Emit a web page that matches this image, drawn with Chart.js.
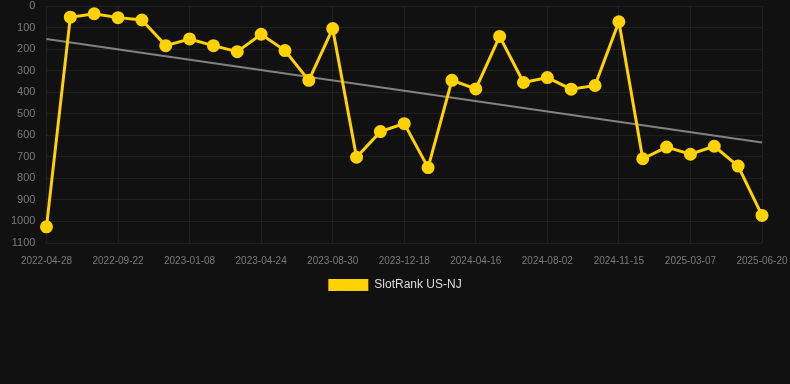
<!DOCTYPE html>
<html>
<head>
<meta charset="utf-8">
<script src="https://cdn.jsdelivr.net/npm/chart.js@4/dist/chart.umd.min.js"></script>
<style>
  html, body { margin: 0; padding: 0; background: #111111; }
  #wrap { width: 790px; height: 301px; position: relative; }
</style>
</head>
<body>
<div id="wrap"><canvas id="chart"></canvas></div>
<script>
// dates (x categories)
const dates = [
  '2022-04-28', '2022-06-16', '2022-08-04', '2022-09-22', '2022-10-28', '2022-12-03',
  '2023-01-08', '2023-02-12', '2023-03-19', '2023-04-24', '2023-06-06', '2023-07-18',
  '2023-08-30', '2023-10-06', '2023-11-12', '2023-12-18', '2024-01-27', '2024-03-07',
  '2024-04-16', '2024-05-22', '2024-06-27', '2024-08-02', '2024-09-06', '2024-10-11',
  '2024-11-15', '2024-12-22', '2025-01-28', '2025-03-07', '2025-04-11', '2025-05-16',
  '2025-06-20'
];

// rank values
const rankNJ = [
  1025, 52, 36, 54, 65, 184,
  153, 184, 212, 131, 207, 345,
  105, 702, 583, 546, 750, 345,
  385, 141, 355, 332, 386, 369,
  73, 709, 655, 688, 651, 743,
  972
];

// trend line ends
const trendStart = 153;
const trendEnd = 634;

const trendData = dates.map((d, i) =>
  i === 0 ? trendStart : (i === dates.length - 1 ? trendEnd : null));

const gold = 'rgb(255, 210, 0)';
const tickGrey = '#7a7a7a';
const gridCol = 'rgba(255,255,255,0.06)';
const font = 'Arial, "Liberation Sans", sans-serif';

new Chart(document.getElementById('chart'), {
  type: 'line',
  data: {
    labels: dates,
    datasets: [
      {
        label: 'SlotRank US-NJ',
        data: rankNJ,
        borderColor: gold,
        backgroundColor: gold,
        borderWidth: 3,
        pointRadius: 5,
        pointHoverRadius: 5,
        pointBackgroundColor: gold,
        pointBorderColor: gold,
        tension: 0
      },
      {
        label: 'trend',
        data: trendData,
        spanGaps: true,
        borderColor: 'rgba(150,150,150,0.85)',
        borderWidth: 2,
        pointRadius: 0,
        fill: false
      }
    ]
  },
  options: {
    responsive: true,
    maintainAspectRatio: false,
    animation: false,
    layout: { autoPadding: false, padding: { left: 0, right: 0, top: 0, bottom: 0 } },
    plugins: {
      tooltip: { enabled: false },
      legend: {
        position: 'bottom',
        labels: {
          color: '#dddddd',
          font: { family: font, size: 12 },
          boxWidth: 40,
          boxHeight: 12,
          padding: 6,
          generateLabels: chart =>
            Chart.defaults.plugins.legend.labels.generateLabels(chart)
              .filter(item => item.text !== 'trend')
              .map(item => Object.assign(item, { lineWidth: 0 }))
        }
      }
    },
    scales: {
      x: {
        grid: { color: gridCol, drawTicks: false },
        border: { display: false },
        ticks: {
          color: tickGrey,
          font: { family: font, size: 10 },
          maxRotation: 0,
          autoSkip: true,
          maxTicksLimit: 11,
          padding: 12
        },
        afterFit: scale => {
          scale.paddingRight = 28;
          scale.paddingLeft = 0;
          scale.height -= 6;
        }
      },
      y: {
        reverse: true,
        min: 0,
        max: 1100,
        grid: { color: gridCol, drawTicks: false },
        border: { display: false },
        ticks: {
          stepSize: 100,
          color: tickGrey,
          font: { family: font, size: 11 },
          padding: 11,
          callback: v => String(v)
        },
        afterFit: scale => { scale.paddingTop = 6; scale.paddingBottom = 6; }
      }
    }
  }
});
</script>
</body>
</html>
